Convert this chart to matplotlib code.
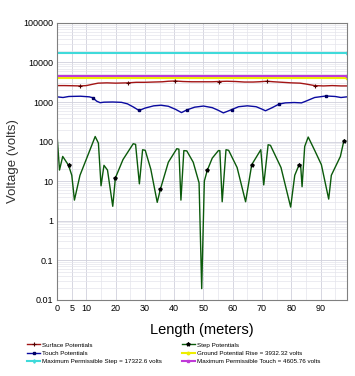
import matplotlib
matplotlib.use("Agg")
import matplotlib.pyplot as plt
from matplotlib.ticker import FixedLocator, MultipleLocator, LogLocator, NullFormatter

plt.rcParams['font.family'] = ['Liberation Sans', 'DejaVu Sans']

x_end = 99

# surface potentials
surf_x = [0, 2.5, 5, 7.8, 10, 12, 14, 17, 20, 24.2, 27, 30, 33, 36, 38, 40.3, 43, 46,
          49.5, 53, 55.3, 58, 61, 64, 67, 69, 71.7, 74, 77, 80, 83, 85, 88, 91, 94, 97, 99]
surf_v = [2600, 2600, 2580, 2550, 2600, 2800, 3000, 3050, 3000, 3050, 3150, 3150, 3200,
          3250, 3350, 3400, 3300, 3250, 3250, 3250, 3300, 3350, 3300, 3200, 3200, 3250,
          3350, 3250, 3150, 3050, 3000, 2850, 2600, 2550, 2600, 2550, 2550]
surf_marks = [3, 9, 15, 20, 26, 32]

# touch potentials
touch_x = [0, 2, 4, 8, 11, 12.2, 13.5, 14.7, 16, 19, 22, 24, 26, 28, 30, 33, 35.5, 38,
           40.5, 42.5, 44.3, 47, 50, 53, 55, 56.8, 59.6, 62, 65, 68, 70, 71.2, 73.5, 75.9,
           78, 81, 83.5, 85, 88, 91.9, 95, 97, 99]
touch_v = [1350, 1300, 1380, 1400, 1350, 1280, 1050, 960, 990, 1000, 980, 900, 750, 610,
           700, 800, 830, 780, 650, 540, 630, 740, 790, 720, 620, 530, 640, 760, 800, 760,
           660, 600, 720, 890, 950, 970, 950, 1050, 1300, 1420, 1380, 1300, 1350]
touch_marks = [5, 13, 20, 26, 33, 39]

# step potentials
step_x = [0, 0.8, 1.9, 3.9, 5.0, 5.9, 7.8, 10.5, 13.0, 14.1, 15.0, 16.0, 17.2, 19.0, 19.9,
          22.5, 26.0, 26.8, 28.1, 29.2, 30.1, 32.0, 34.2, 35.3, 38.0, 40.9, 41.6, 42.3,
          43.3, 44.3, 46.5, 48.5, 49.4, 50.3, 51.3, 53.0, 55.1, 55.6, 56.4, 57.7, 58.6,
          61.5, 64.4, 66.5, 69.6, 70.6, 72.1, 72.9, 76.5, 79.8, 81.2, 82.6, 83.2, 83.7,
          84.6, 85.8, 88.0, 90.3, 92.8, 93.7, 96.8, 98]
step_v = [134, 19, 42, 25, 14, 3.3, 14, 45, 134, 91, 7.6, 25, 19, 2.3, 12,
          35, 88, 85, 8.5, 62, 60, 20, 2.9, 6.3, 30, 66, 64, 3.3,
          59, 58, 30, 9, 0.019, 10, 18.6, 38, 59, 59, 3, 62, 60,
          22, 3, 26, 62, 8, 83, 80, 22, 2.2, 14, 25, 26, 7.2,
          75, 130, 60, 26, 3.5, 14, 42, 106]
step_marks = [3, 14, 23, 34, 43, 51, 61]

max_step = 17322.6
gpr = 3932.32
max_touch = 4605.76

fig = plt.figure(figsize=(3.55, 3.76), dpi=100)
ax = fig.add_axes([0.161, 0.203, 0.816, 0.736])

ax.plot(surf_x, surf_v, color='#a31515', lw=1.0, marker='+', ms=2.5, mew=0.8,
        markevery=surf_marks, mec='#500000', label='Surface Potentials')
ax.plot(touch_x, touch_v, color='#0a0aa0', lw=1.0, marker='s', ms=1.8,
        markevery=touch_marks, mec='#000060', label='Touch Potentials')
ax.plot([0, x_end], [max_step, max_step], color='#3fdada', lw=1.5, marker='d', ms=1.8,
        markevery=[1], label='Maximum Permissible Step = 17322.6 volts')
ax.plot(step_x, step_v, color='#0b5a0b', lw=1.0, marker='*', ms=2.8,
        markevery=step_marks, mec='black', mfc='black', label='Step Potentials')
ax.plot([0, x_end], [gpr, gpr], color='#eeee00', lw=1.5, marker='o', ms=1.8,
        markevery=[1], label='Ground Potential Rise = 3932.32 volts')
ax.plot([0, x_end], [max_touch, max_touch], color='#c03ad8', lw=1.5, marker='s', ms=1.8,
        markevery=[1], label='Maximum Permissible Touch = 4605.76 volts')

ax.set_yscale('log')
ax.set_ylim(0.01, 100000)
ax.set_xlim(0, x_end)

yt = [0.01, 0.1, 1, 10, 100, 1000, 10000, 100000]
ax.yaxis.set_major_locator(FixedLocator(yt))
ax.set_yticklabels(['0.01', '0.1', '1', '10', '100', '1000', '10000', '100000'])
ax.yaxis.set_minor_locator(LogLocator(base=10, subs=range(2, 10), numticks=20))
ax.yaxis.set_minor_formatter(NullFormatter())

ax.set_xticks([0, 5, 10, 20, 30, 40, 50, 60, 70, 80, 90])
ax.xaxis.set_minor_locator(MultipleLocator(5))

ax.tick_params(which='both', length=0, labelsize=6.5, pad=3)
ax.grid(True, which='major', color='#d0d0dc', lw=0.6)
ax.grid(True, which='minor', color='#e4e4ec', lw=0.5)
ax.set_axisbelow(True)
for s in ax.spines.values():
    s.set_color('#808080')
    s.set_linewidth(0.8)

ax.set_xlabel('Length (meters)', fontsize=10.5, labelpad=7)
ax.set_ylabel('Voltage (volts)', fontsize=9.5, color='#333333', labelpad=3)

fig.legend(loc='upper left', bbox_to_anchor=(0.068, 0.098), ncol=2, frameon=False,
           fontsize=4.5, handlelength=2.0, handletextpad=0.4, labelspacing=0.45,
           columnspacing=3.2, borderpad=0)

fig.savefig('out.png', dpi=100)
